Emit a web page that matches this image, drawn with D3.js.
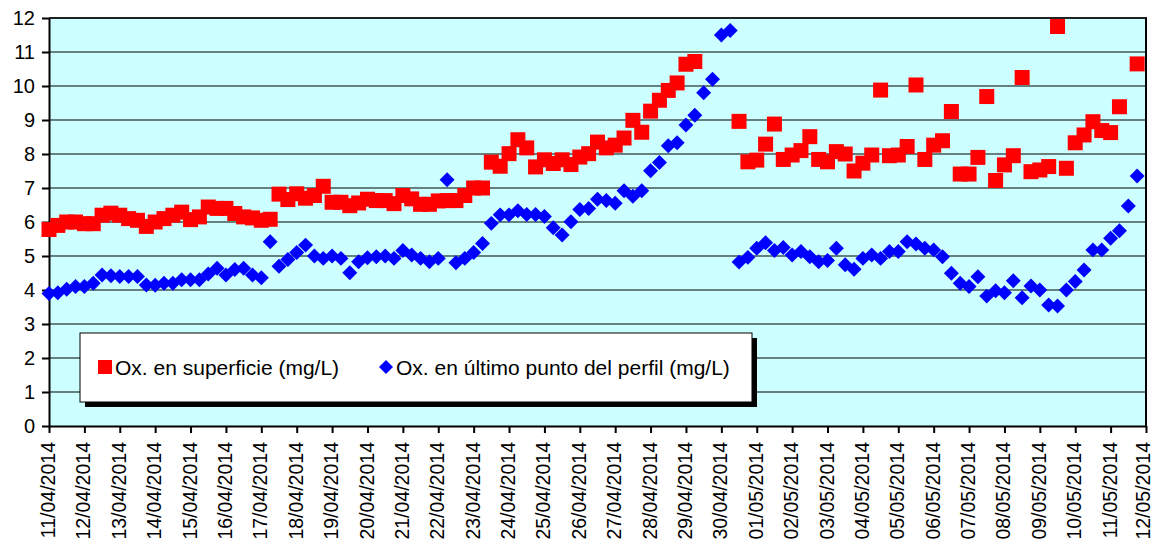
<!DOCTYPE html>
<html>
<head>
<meta charset="utf-8">
<script src="https://cdn.jsdelivr.net/npm/d3@7"></script>
<style>
  html, body { margin: 0; padding: 0; background: #ffffff; }
  svg { display: block; }
  text { font-family: "Liberation Sans", Arial, sans-serif; fill: #000; }
</style>
</head>
<body>
<svg id="chart" width="1154" height="549"></svg>
<script>
// ---- data ----
const dateLabels = ["11/04/2014","12/04/2014","13/04/2014","14/04/2014","15/04/2014","16/04/2014","17/04/2014","18/04/2014","19/04/2014","20/04/2014","21/04/2014","22/04/2014","23/04/2014","24/04/2014","25/04/2014","26/04/2014","27/04/2014","28/04/2014","29/04/2014","30/04/2014","01/05/2014","02/05/2014","03/05/2014","04/05/2014","05/05/2014","06/05/2014","07/05/2014","08/05/2014","09/05/2014","10/05/2014","11/05/2014","12/05/2014"];
const yTicks = [0,1,2,3,4,5,6,7,8,9,10,11,12];
const seriesNames = ["Ox. en superficie (mg/L)", "Ox. en último punto del perfil (mg/L)"];
const startTime = "2014-04-11T00:00:00Z";
const stepHours = 6; // one reading every 6 hours

const surface = [5.78,5.90,6.00,6.00,5.95,5.95,6.20,6.26,6.20,6.10,6.05,5.87,6.00,6.10,6.20,6.29,6.07,6.15,6.44,6.40,
  6.40,6.25,6.15,6.12,6.05,6.08,6.82,6.66,6.83,6.70,6.78,7.05,6.58,6.58,6.48,6.56,6.67,6.63,6.63,6.54,
  6.78,6.68,6.52,6.52,6.62,6.63,6.63,6.78,7.00,7.00,7.76,7.64,8.01,8.42,8.18,7.62,7.83,7.72,7.83,7.69,
  7.91,8.01,8.35,8.18,8.26,8.47,8.99,8.64,9.26,9.58,9.87,10.09,10.64,10.72,null,null,null,null,8.96,7.77,
  7.82,8.29,8.88,7.84,7.97,8.10,8.51,7.84,7.77,8.07,8.00,7.50,7.73,7.97,9.88,7.95,7.97,8.22,10.03,7.84,
  8.26,8.39,9.25,7.41,7.41,7.90,9.69,7.22,7.68,7.95,10.25,7.48,7.53,7.63,11.75,7.58,8.33,8.56,8.95,8.69,
  8.63,9.39,null,10.65];

const bottom = [3.90,3.92,4.02,4.10,4.10,4.20,4.44,4.42,4.40,4.40,4.40,4.15,4.14,4.20,4.20,4.30,4.30,4.30,4.47,4.64,
  4.44,4.60,4.64,4.44,4.36,5.42,4.70,4.90,5.10,5.32,5.00,4.93,5.00,4.93,4.51,4.83,4.95,4.98,5.00,4.93,
  5.16,5.03,4.93,4.83,4.93,7.24,4.80,4.93,5.10,5.37,5.96,6.21,6.21,6.33,6.22,6.22,6.16,5.83,5.62,6.01,
  6.37,6.40,6.67,6.63,6.55,6.92,6.76,6.92,7.51,7.75,8.24,8.33,8.85,9.14,9.80,10.20,11.50,11.63,4.82,4.96,
  5.23,5.39,5.16,5.25,5.03,5.13,4.98,4.83,4.87,5.23,4.74,4.61,4.93,5.03,4.93,5.13,5.13,5.42,5.35,5.23,
  5.18,4.98,4.49,4.20,4.10,4.39,3.82,3.98,3.92,4.27,3.77,4.12,4.00,3.56,3.53,4.00,4.25,4.59,5.18,5.18,
  5.52,5.74,6.47,7.35];

// ---- layout ----
const svg = d3.select("#chart");
const plot = { left: 49, right: 1146, top: 18, bottom: 426 };

const parseLabel = d3.utcParse("%d/%m/%Y");
const tickDates = dateLabels.map(parseLabel);
const t0 = new Date(startTime);
const timeOf = i => d3.utcHour.offset(t0, i * stepHours);

const x = d3.scaleUtc()
  .domain([tickDates[0], tickDates[tickDates.length - 1]])
  .range([plot.left, plot.right]);
const y = d3.scaleLinear().domain([0, 12]).range([plot.bottom, plot.top]);

// plot background
svg.append("rect")
  .attr("x", plot.left).attr("y", plot.top)
  .attr("width", plot.right - plot.left).attr("height", plot.bottom - plot.top)
  .attr("fill", "#CCFFFF");

// gridlines
svg.append("g").selectAll("line")
  .data(yTicks.filter(v => v > 0 && v < 12))
  .join("line")
  .attr("x1", plot.left).attr("x2", plot.right)
  .attr("y1", d => y(d)).attr("y2", d => y(d))
  .attr("stroke", "#000").attr("stroke-width", 1.2);

// top & right border
svg.append("line").attr("x1", plot.left).attr("x2", plot.right + 1)
  .attr("y1", y(12)).attr("y2", y(12)).attr("stroke", "#222").attr("stroke-width", 2);
svg.append("line").attr("x1", plot.right).attr("x2", plot.right)
  .attr("y1", y(12)).attr("y2", plot.bottom).attr("stroke", "#000").attr("stroke-width", 2);

// axes
const yAxis = d3.axisLeft(y).tickValues(yTicks).tickSize(7).tickSizeOuter(0).tickPadding(7).tickFormat(d3.format("d"));
const gy = svg.append("g").attr("transform", `translate(${plot.left},0)`).call(yAxis);
gy.select(".domain").attr("stroke", "#000").attr("stroke-width", 2);
gy.selectAll(".tick line").attr("stroke", "#000").attr("stroke-width", 2);
gy.selectAll(".tick text").attr("font-size", 20).attr("font-family", "'Liberation Sans', Arial, sans-serif").attr("fill", "#000");

const xAxis = d3.axisBottom(x).tickValues(tickDates).tickSize(7).tickSizeOuter(0)
  .tickFormat((d, i) => dateLabels[i]);
const gx = svg.append("g").attr("transform", `translate(0,${plot.bottom})`).call(xAxis);
gx.select(".domain").attr("stroke", "#000").attr("stroke-width", 2);
gx.selectAll(".tick line").attr("stroke", "#000").attr("stroke-width", 2);
gx.selectAll(".tick text")
  .attr("font-size", 19.5).attr("font-family", "'Liberation Sans', Arial, sans-serif").attr("fill", "#000")
  .attr("text-anchor", "end")
  .attr("transform", (d, i) => `translate(${i === dateLabels.length - 1 ? -3.5 : -1.5},16) rotate(-90)`)
  .attr("x", 0).attr("y", 0).attr("dy", "0.36em");

// markers
const squarePath = d3.symbol(d3.symbolSquare, 225)();
const diamondPath = d3.symbol(d3.symbolSquare, 112)();

const redPts = surface.map((v, i) => ({ t: timeOf(i), v })).filter(d => d.v !== null);
const bluePts = bottom.map((v, i) => ({ t: timeOf(i), v })).filter(d => d.v !== null);

svg.append("g").selectAll("path").data(redPts).join("path")
  .attr("d", squarePath)
  .attr("transform", d => `translate(${x(d.t)},${y(d.v)})`)
  .attr("fill", "#FF0000");

svg.append("g").selectAll("path").data(bluePts).join("path")
  .attr("d", diamondPath)
  .attr("transform", d => `translate(${x(d.t)},${y(d.v)}) rotate(45)`)
  .attr("fill", "#0000FF");

// legend
const lg = { x: 80, y: 333, w: 672, h: 69 };
svg.append("rect").attr("x", lg.x + 5).attr("y", lg.y + 5).attr("width", lg.w).attr("height", lg.h).attr("fill", "#000");
svg.append("rect").attr("x", lg.x).attr("y", lg.y).attr("width", lg.w).attr("height", lg.h)
  .attr("fill", "#fff").attr("stroke", "#000").attr("stroke-width", 1);
const ly = lg.y + 34;
svg.append("path").attr("d", d3.symbol(d3.symbolSquare, 196)()).attr("transform", `translate(105,${ly})`).attr("fill", "#FF0000");
svg.append("text").attr("x", 115).attr("y", ly).attr("dy", "0.36em").attr("font-size", 21).text(seriesNames[0]);
svg.append("path").attr("d", d3.symbol(d3.symbolSquare, 98)()).attr("transform", `translate(386,${ly}) rotate(45)`).attr("fill", "#0000FF");
svg.append("text").attr("x", 396).attr("y", ly).attr("dy", "0.36em").attr("font-size", 21).text(seriesNames[1]);
</script>
</body>
</html>
